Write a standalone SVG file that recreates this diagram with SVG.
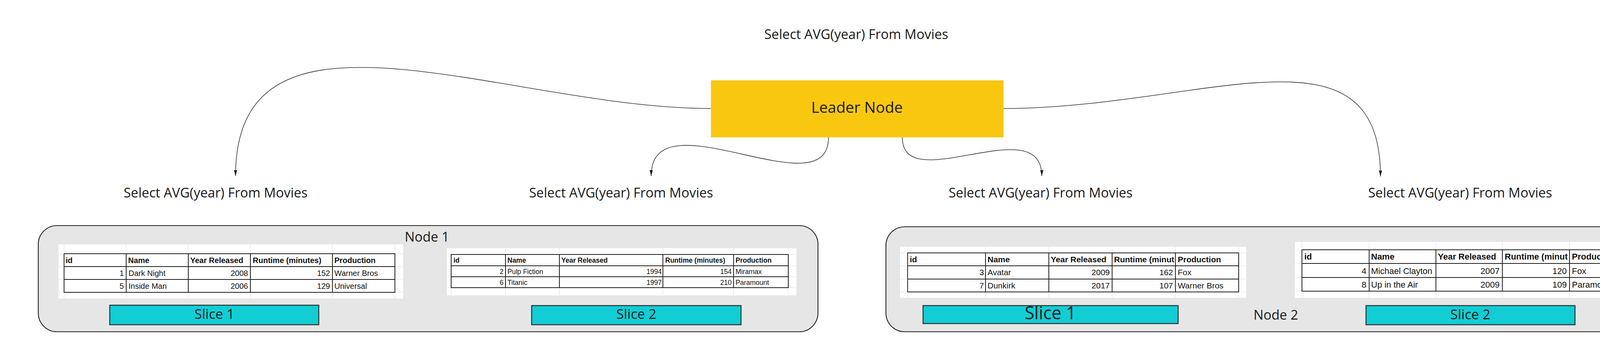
<svg xmlns="http://www.w3.org/2000/svg" width="4406" height="907" viewBox="0 0 4406 907">
<style>
.lbl{font-family:"Open Sans","Noto Sans",sans-serif;fill:#1a1a1a;text-anchor:middle}
.conn{fill:none;stroke:#333;stroke-width:1.6}
.node{fill:#e6e6e6;stroke:#222;stroke-width:2.2}
.slice{fill:#12cdd4;stroke:#263333;stroke-width:2.5}
.bg{fill:#ffffff}
.grid{stroke:#e2e2e2;stroke-width:1.2;fill:none}
.tb{stroke:#1e1e1e;stroke-width:2;fill:none}
.th{font-family:"Liberation Sans",Arial,sans-serif;font-weight:bold;fill:#111}
.td{font-family:"Liberation Sans",Arial,sans-serif;fill:#111}
.r{text-anchor:end}
</style>
<defs>
<marker id="arrow" markerUnits="userSpaceOnUse" markerWidth="16" markerHeight="8" refX="15" refY="4" orient="auto">
<path d="M0,0 L15,4 L0,8 z" fill="#1a1a1a"/>
</marker>
</defs>
<rect width="4406" height="907" fill="#ffffff"/>

<g id="query-top"><text class="lbl" x="2192" y="100" font-size="34">Select AVG(year) From Movies</text></g>

<g id="leader-node">
<rect x="1820" y="206" width="749" height="146" fill="#fac710"/>
<text class="lbl" x="2194" y="289" font-size="39">Leader Node</text>
</g>

<g id="connectors">
<path class="conn" d="M1820,278 C1296,278 603,-50 603,451" marker-end="url(#arrow)"/>
<path class="conn" d="M2121,352 C2121,542 1667,240 1667,451" marker-end="url(#arrow)"/>
<path class="conn" d="M2310,352 C2310,507 2667,280 2667,451" marker-end="url(#arrow)"/>
<path class="conn" d="M2569,278 C3074,278 3534,40 3534,452" marker-end="url(#arrow)"/>
</g>

<g id="query-1"><text class="lbl" x="552" y="506" font-size="34">Select AVG(year) From Movies</text></g>
<g id="query-2"><text class="lbl" x="1590" y="506" font-size="34">Select AVG(year) From Movies</text></g>
<g id="query-3"><text class="lbl" x="2664" y="506" font-size="34">Select AVG(year) From Movies</text></g>
<g id="query-4"><text class="lbl" x="3738" y="506" font-size="34">Select AVG(year) From Movies</text></g>

<g id="node-1">
<rect class="node" x="98" y="578" width="1996" height="272" rx="48" ry="48"/>
<text class="lbl" x="1093" y="619" font-size="34">Node 1</text>

<g id="table-1">
<rect class="bg" x="150" y="626" width="882" height="139"/>
<path class="grid" d="M164,626V765M323,626V765M482,626V765M641,626V765M851,626V765M1011,626V765M150,650H1032M150,683H1032M150,716H1032M150,749H1032"/>
<rect class="tb" x="164" y="650" width="847" height="99"/>
<path class="tb" d="M164,683H1011M164,716H1011M323,650V749M482,650V749M641,650V749M851,650V749"/>
<g class="th" font-size="20">
<text x="168" y="674">id</text><text x="328" y="674">Name</text><text x="487" y="674">Year Released</text><text x="647" y="674">Runtime (minutes)</text><text x="856" y="674">Production</text>
</g>
<g class="td" font-size="20">
<text class="r" x="317" y="707">1</text><text x="329" y="707">Dark Night</text><text class="r" x="635" y="707">2008</text><text class="r" x="845" y="707">152</text><text x="856" y="707">Warner Bros</text>
<text class="r" x="317" y="740">5</text><text x="329" y="740">Inside Man</text><text class="r" x="635" y="740">2006</text><text class="r" x="845" y="740">129</text><text x="856" y="740">Universal</text>
</g>
</g>

<g id="table-2">
<rect class="bg" x="1144" y="636" width="895" height="121"/>
<path class="grid" d="M1155,636V757M1294,636V757M1432,636V757M1697,636V757M1878,636V757M2018,636V757M1144,652H2039M1144,681H2039M1144,709H2039M1144,737H2039"/>
<rect class="tb" x="1155" y="652" width="863" height="85"/>
<path class="tb" d="M1155,681H2018M1155,709H2018M1294,652V737M1432,652V737M1697,652V737M1878,652V737"/>
<g class="th" font-size="17.5">
<text x="1161" y="673">id</text><text x="1299" y="673">Name</text><text x="1437" y="673">Year Released</text><text x="1703" y="673">Runtime (minutes)</text><text x="1883" y="673">Production</text>
</g>
<g class="td" font-size="17.5">
<text class="r" x="1289" y="702">2</text><text x="1299" y="702">Pulp Fiction</text><text class="r" x="1694" y="702">1994</text><text class="r" x="1873" y="702">154</text><text x="1883" y="702">Miramax</text>
<text class="r" x="1289" y="730">6</text><text x="1299" y="730">Titanic</text><text class="r" x="1694" y="730">1997</text><text class="r" x="1873" y="730">210</text><text x="1883" y="730">Paramount</text>
</g>
</g>

<g id="node1-slice-1">
<rect class="slice" x="281" y="782" width="535" height="50"/>
<text class="lbl" x="549" y="817" font-size="35">Slice 1</text>
</g>
<g id="node1-slice-2">
<rect class="slice" x="1361" y="783" width="536" height="49"/>
<text class="lbl" x="1629" y="817" font-size="35">Slice 2</text>
</g>
</g>

<g id="node-2">
<rect class="node" x="2268" y="581" width="1996" height="269" rx="48" ry="48"/>
<text class="lbl" x="3266" y="819" font-size="34">Node 2</text>

<g id="table-3">
<rect class="bg" x="2304" y="632" width="886" height="131"/>
<path class="grid" d="M2323.5,632V763M2523,632V763M2685,632V763M2847,632V763M3009,632V763M3171,632V763M2304,648H3190M2304,681H3190M2304,715H3190M2304,748H3190"/>
<rect class="tb" x="2323.5" y="648" width="847.5" height="100"/>
<path class="tb" d="M2323.5,681H3171M2323.5,715H3171M2523,648V748M2685,648V748M2847,648V748M3009,648V748"/>
<g class="th" font-size="21">
<text x="2329" y="672">id</text><text x="2528" y="672">Name</text><text x="2690" y="672">Year Released</text><text x="2852" y="672">Runtime (minut</text><text x="3015" y="672">Production</text>
</g>
<g class="td" font-size="21">
<text class="r" x="2519" y="705">3</text><text x="2528" y="705">Avatar</text><text class="r" x="2841" y="705">2009</text><text class="r" x="3003" y="705">162</text><text x="3015" y="705">Fox</text>
<text class="r" x="2519" y="739">7</text><text x="2528" y="739">Dunkirk</text><text class="r" x="2841" y="739">2017</text><text class="r" x="3003" y="739">107</text><text x="3015" y="739">Warner Bros</text>
</g>
</g>

<g id="table-4">
<rect class="bg" x="3315" y="620" width="898" height="143"/>
<path class="grid" d="M3333,620V763M3505,620V763M3676,620V763M3846,620V763M4018,620V763M4189,620V763M3315,640H4213M3315,675H4213M3315,711H4213M3315,746H4213"/>
<rect class="tb" x="3333" y="640" width="856" height="106"/>
<path class="tb" d="M3333,675H4189M3333,711H4189M3505,640V746M3676,640V746M3846,640V746M4018,640V746"/>
<g class="th" font-size="22">
<text x="3339" y="665">id</text><text x="3510" y="665">Name</text><text x="3681" y="665">Year Released</text><text x="3852" y="665">Runtime (minut</text><text x="4024" y="665">Production</text>
</g>
<g class="td" font-size="22">
<text class="r" x="3498" y="702">4</text><text x="3510" y="702">Michael Clayton</text><text class="r" x="3839" y="702">2007</text><text class="r" x="4011" y="702">120</text><text x="4024" y="702">Fox</text>
<text class="r" x="3498" y="737">8</text><text x="3510" y="737">Up in the Air</text><text class="r" x="3839" y="737">2009</text><text class="r" x="4011" y="737">109</text><text x="4024" y="737">Paramount</text>
</g>
</g>

<g id="node2-slice-1">
<rect class="slice" x="2363" y="783" width="653" height="46"/>
<text class="lbl" x="2689" y="818" font-size="45">Slice 1</text>
</g>
<g id="node2-slice-2">
<rect class="slice" x="3497" y="783" width="535" height="49"/>
<text class="lbl" x="3764" y="818" font-size="35">Slice 2</text>
</g>
</g>

<g id="watermark">
<rect x="4130" y="728" width="176" height="110" fill="#ffffff" opacity="0.3"/>
<text x="4163" y="803" font-family="'Open Sans','Noto Sans',sans-serif" font-weight="bold" font-size="62" fill="#c6c4d6">miro</text>
</g>
</svg>
